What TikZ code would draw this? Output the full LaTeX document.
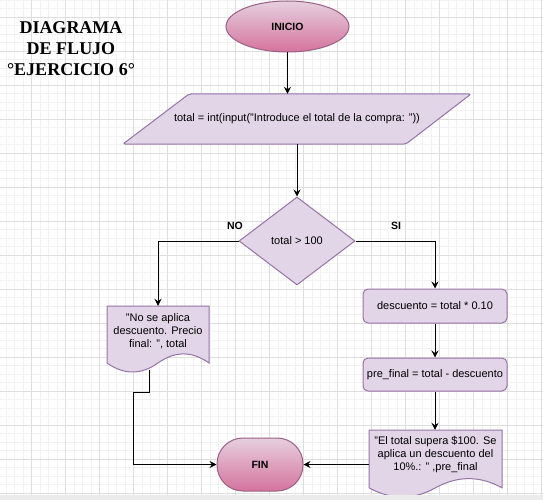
\documentclass[tikz,border=0pt]{standalone}
\usepackage{fontspec}
\setmainfont{Liberation Sans}
\newfontfamily\titlefont{Liberation Serif}
\usetikzlibrary{shapes.geometric,arrows.meta,calc}

\definecolor{procfill}{HTML}{E1D5E7}
\definecolor{procline}{HTML}{9673A6}
\definecolor{termtop}{HTML}{E6D0DE}
\definecolor{termbot}{HTML}{D5739D}
\definecolor{termline}{HTML}{996185}
\definecolor{gridminor}{HTML}{F2F2F2}
\definecolor{gridmajor}{HTML}{DEDEDE}
\definecolor{barfill}{HTML}{EBEBEB}

% document symbol: flat top, wavy bottom (left, top, width, height)
\newcommand{\docoutline}[4]{%
  \draw[proc] (#1,#2) -- ({#1+#3},#2) -- ({#1+#3},{#2+0.85*#4})
    .. controls ({#1+0.8333*#3},{#2+0.67*#4}) and ({#1+0.6667*#3},{#2+0.67*#4}) .. ({#1+0.5*#3},{#2+0.85*#4})
    .. controls ({#1+0.3333*#3},{#2+1.03*#4}) and ({#1+0.1667*#3},{#2+1.03*#4}) .. (#1,{#2+0.85*#4}) -- cycle;}

\begin{document}
\begin{tikzpicture}[x=1pt,y=-1pt,
  every node/.style={font=\fontsize{11}{13}\selectfont, text=black},
  proc/.style={draw=procline, fill=procfill, line width=1pt},
  box/.style={proc, rectangle, rounded corners=5pt, minimum width=144pt, minimum height=34pt, inner sep=0pt},
  term/.style={draw=termline, line width=1pt, top color=termtop, bottom color=termbot,
    font=\bfseries\fontsize{10.5}{12}\selectfont, inner sep=0pt},
  flow/.style={line width=0.9pt, draw=black},
  arr/.style={flow, -{Stealth[length=7pt,width=7pt,inset=2.5pt]}},
  lbl/.style={font=\bfseries\fontsize{10.5}{12}\selectfont},
  txt/.style={inner sep=0pt, align=center},
]
\useasboundingbox (0,0) rectangle (543,500);
\fill[white] (0,0) rectangle (543,500);

% background grid
\foreach \i in {0,...,64} \draw[gridminor, line width=0.7pt] ({-2.3+8.5*\i},0) -- ({-2.3+8.5*\i},500);
\foreach \j in {0,...,58} \draw[gridminor, line width=0.7pt] (0,{0.3+8.5*\j}) -- (543,{0.3+8.5*\j});
\foreach \i in {0,...,16} \draw[gridmajor, line width=0.7pt] ({-2.3+34*\i},0) -- ({-2.3+34*\i},500);
\foreach \j in {0,...,14} \draw[gridmajor, line width=0.7pt] (0,{17.3+34*\j}) -- (543,{17.3+34*\j});

% title
\node[font=\titlefont\bfseries\fontsize{18}{21}\selectfont, align=center] (titulo) at (71,49)
  {DIAGRAMA\\DE FLUJO\\°EJERCICIO 6°};

% start
\node[term, ellipse, minimum width=123pt, minimum height=51pt] (inicio) at (287.5,26.5) {INICIO};

% input
\draw[proc, rounded corners=2pt] (189,94) -- (471,94) -- (406,144) -- (123,144) -- cycle;
\node[txt, minimum width=200pt, minimum height=50pt] (entrada) at (297,119)
  {total = int(input("Introduce el total de la compra: "))};

% decision
\node[proc, diamond, minimum width=116pt, minimum height=88pt, inner sep=0pt] (cond) at (297,241) {total > 100};
\node[lbl] (no) at (235,226) {NO};
\node[lbl] (si) at (396,226) {SI};

% branch without discount
\docoutline{107}{306}{102}{67}
\node[txt, minimum width=102pt, minimum height=50pt] (docL) at (158,331)
  {"No se aplica\\descuento. Precio\\final: ", total};

% branch with discount
\node[box] (desc) at (435,306) {descuento = total * 0.10};
\node[box, minimum height=33pt] (pre) at (435,374.5) {pre\_final = total - descuento};
\docoutline{369}{430}{133}{68}
\node[txt, minimum width=133pt, minimum height=50pt] (docR) at (435.5,455)
  {"El total supera \$100. Se\\aplica un descuento del\\10\%.: " ,pre\_final};

% end
\node[term, rectangle, rounded corners=26pt, minimum width=86pt, minimum height=53pt] (fin) at (260,464.5) {FIN};

% connectors
\coordinate (salidaL) at ($(docL.south)+(-9,14)$);
\coordinate (codoL) at (133,392);
\draw[arr] (inicio) -- (inicio.south |- entrada.north);
\draw[arr] (entrada.south) -- (cond.north);
\draw[arr] (cond.west) -| (docL.north);
\draw[arr] (cond.east) -| (desc.north);
\draw[arr] (desc.south) -- (pre.north);
\draw[arr] (pre.south) -- (pre.south |- docR.north);
\draw[arr] (salidaL) |- (codoL) |- (fin.west);
\draw[arr] (fin.east -| docR.west) -- (fin.east);

% window bar along the lower edge
\fill[barfill] (0,495) rectangle (543,500);
\end{tikzpicture}
\end{document}
